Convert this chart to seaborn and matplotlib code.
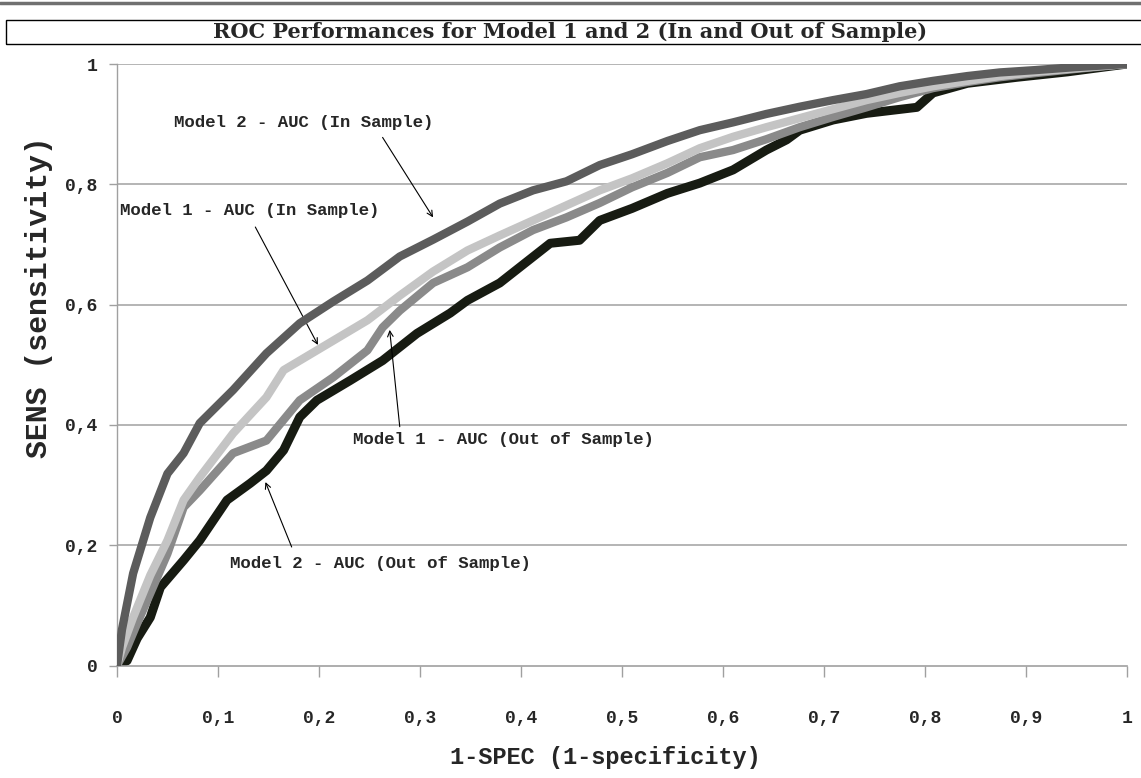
import numpy as np
import pandas as pd
import seaborn as sns
import matplotlib.pyplot as plt
from matplotlib.lines import Line2D
from matplotlib.patches import Rectangle

sns.set_style("white")
plt.rcParams['font.family'] = ['Liberation Mono', 'DejaVu Sans Mono']

# ROC curves (x = 1-specificity, y = sensitivity)
m2_in_x = [0, 0.005, 0.016, 0.033, 0.05, 0.066, 0.082, 0.115, 0.148, 0.181, 0.214, 0.248, 0.28,
           0.313, 0.347, 0.379, 0.412, 0.445, 0.478, 0.51, 0.545, 0.577, 0.61, 0.643, 0.676,
           0.709, 0.742, 0.775, 0.808, 0.842, 0.874, 0.91, 0.95, 1.0]
m2_in_y = [0, 0.06, 0.153, 0.246, 0.319, 0.353, 0.403, 0.458, 0.519, 0.569, 0.605, 0.64, 0.68,
           0.708, 0.738, 0.768, 0.79, 0.805, 0.832, 0.85, 0.872, 0.89, 0.903, 0.917, 0.929,
           0.94, 0.95, 0.963, 0.972, 0.98, 0.986, 0.99, 0.995, 1.0]

m1_in_x = [0, 0.005, 0.016, 0.033, 0.05, 0.066, 0.082, 0.115, 0.148, 0.165, 0.198, 0.248, 0.28,
           0.313, 0.347, 0.379, 0.412, 0.445, 0.478, 0.51, 0.545, 0.577, 0.61, 0.643, 0.676,
           0.709, 0.742, 0.775, 0.808, 0.842, 0.874, 0.91, 0.95, 1.0]
m1_in_y = [0, 0.03, 0.08, 0.15, 0.208, 0.275, 0.313, 0.386, 0.446, 0.491, 0.524, 0.574, 0.615,
           0.655, 0.69, 0.715, 0.74, 0.765, 0.79, 0.81, 0.835, 0.86, 0.879, 0.895, 0.91,
           0.925, 0.94, 0.952, 0.963, 0.972, 0.98, 0.987, 0.993, 1.0]

m1_out_x = [0, 0.01, 0.02, 0.033, 0.05, 0.066, 0.082, 0.115, 0.148, 0.181, 0.214, 0.248, 0.263,
            0.28, 0.313, 0.347, 0.379, 0.412, 0.445, 0.478, 0.51, 0.545, 0.577, 0.61, 0.643,
            0.676, 0.709, 0.742, 0.775, 0.808, 0.842, 0.874, 0.91, 0.95, 1.0]
m1_out_y = [0, 0.03, 0.07, 0.12, 0.186, 0.263, 0.291, 0.353, 0.374, 0.441, 0.479, 0.524, 0.562,
            0.59, 0.636, 0.662, 0.695, 0.724, 0.745, 0.769, 0.795, 0.819, 0.845, 0.857, 0.875,
            0.895, 0.912, 0.928, 0.945, 0.96, 0.97, 0.978, 0.985, 0.992, 1.0]

m2_out_x = [0, 0.01, 0.02, 0.033, 0.043, 0.066, 0.082, 0.109, 0.132, 0.148, 0.165, 0.181, 0.198,
            0.231, 0.263, 0.297, 0.33, 0.347, 0.379, 0.429, 0.458, 0.478, 0.51, 0.545, 0.577,
            0.61, 0.643, 0.663, 0.676, 0.709, 0.742, 0.792, 0.808, 0.842, 0.891, 0.941, 1.0]
m2_out_y = [0, 0.008, 0.045, 0.08, 0.13, 0.175, 0.208, 0.275, 0.303, 0.324, 0.358, 0.413, 0.441,
            0.474, 0.507, 0.552, 0.586, 0.607, 0.636, 0.702, 0.707, 0.74, 0.76, 0.785, 0.802,
            0.824, 0.857, 0.874, 0.89, 0.907, 0.918, 0.928, 0.952, 0.968, 0.978, 0.987, 1.0]

ticks = [0, 0.1, 0.2, 0.3, 0.4, 0.5, 0.6, 0.7, 0.8, 0.9, 1.0]
xtick_labels = ['0', '0,1', '0,2', '0,3', '0,4', '0,5', '0,6', '0,7', '0,8', '0,9', '1']
ytick_vals = [0, 0.2, 0.4, 0.6, 0.8, 1.0]
ytick_labels = ['0', '0,2', '0,4', '0,6', '0,8', '1']

fig = plt.figure(figsize=(11.41, 7.78), dpi=100)
ax = fig.add_axes([0.1025, 0.1446, 0.8852, 0.7731])

# gridlines first so curves sit on top
for v in ytick_vals[1:]:
    ax.axhline(v, color='#a8a8a8', lw=1.2, zorder=0)

curves = [
    (m2_out_x, m2_out_y, '#171b12', 6.5, 2),
    (m1_out_x, m1_out_y, '#8a8a8a', 6, 3),
    (m1_in_x, m1_in_y, '#c4c4c4', 6, 4),
    (m2_in_x, m2_in_y, '#5c5c5c', 6, 5),
]
for cx, cy, col, lw, z in curves:
    df = pd.DataFrame({'x': cx, 'y': cy})
    sns.lineplot(data=df, x='x', y='y', sort=False, estimator=None, color=col, lw=lw,
                 ax=ax, zorder=z)

ax.set_xlim(0, 1)
ax.set_ylim(0, 1)
ax.set_xticks(ticks)
ax.set_xticklabels(xtick_labels, fontsize=13, fontweight='bold')
ax.set_yticks(ytick_vals)
ax.set_yticklabels(ytick_labels, fontsize=13, fontweight='bold')
ax.tick_params(axis='x', direction='out', length=8, width=1, color='#a0a0a0', pad=24, bottom=True)
ax.tick_params(axis='y', direction='out', length=6, width=1, color='#a0a0a0', pad=8, left=True)

for s in ['top', 'right']:
    ax.spines[s].set_visible(False)
ax.spines['left'].set_color('#a0a0a0')
ax.spines['bottom'].set_color('#a0a0a0')
ax.spines['left'].set_linewidth(1)
ax.spines['bottom'].set_linewidth(1.2)

ax.set_xlabel('')
ax.set_ylabel('')
fig.text(0.531, 0.026, '1-SPEC (1-specificity)', ha='center', va='center', fontsize=17,
         fontweight='bold')
fig.text(0.034, 0.618, 'SENS (sensitivity)', ha='center', va='center', rotation=90,
         fontsize=21.5, fontweight='bold')

# annotations with thin arrows
arrow = dict(arrowstyle='->', color='black', lw=0.8, shrinkA=0, shrinkB=0)
ax.text(0.056, 0.902, 'Model 2 - AUC (In Sample)', fontsize=12.5, fontweight='bold', va='center')
ax.annotate('', xy=(0.313, 0.745), xytext=(0.263, 0.878), arrowprops=arrow)
ax.text(0.003, 0.757, 'Model 1 - AUC (In Sample)', fontsize=12.5, fontweight='bold', va='center')
ax.annotate('', xy=(0.199, 0.533), xytext=(0.137, 0.729), arrowprops=arrow)
ax.text(0.234, 0.375, 'Model 1 - AUC (Out of Sample)', fontsize=12.5, fontweight='bold', va='center')
ax.annotate('', xy=(0.27, 0.558), xytext=(0.28, 0.397), arrowprops=arrow)
ax.text(0.112, 0.170, 'Model 2 - AUC (Out of Sample)', fontsize=12.5, fontweight='bold', va='center')
ax.annotate('', xy=(0.147, 0.305), xytext=(0.173, 0.197), arrowprops=arrow)

# title box
fig.add_artist(Line2D([0, 1], [0.9965, 0.9965], color='#707070', lw=2.5, transform=fig.transFigure))
fig.add_artist(Rectangle((0.005, 0.943), 1.0, 0.031, fill=False, edgecolor='black', lw=1,
                         transform=fig.transFigure))
fig.text(0.5, 0.959, 'ROC Performances for Model 1 and 2 (In and Out of Sample)',
         ha='center', va='center', fontsize=15, fontweight='bold', family='DejaVu Serif')

fig.savefig('out.png', dpi=100)
